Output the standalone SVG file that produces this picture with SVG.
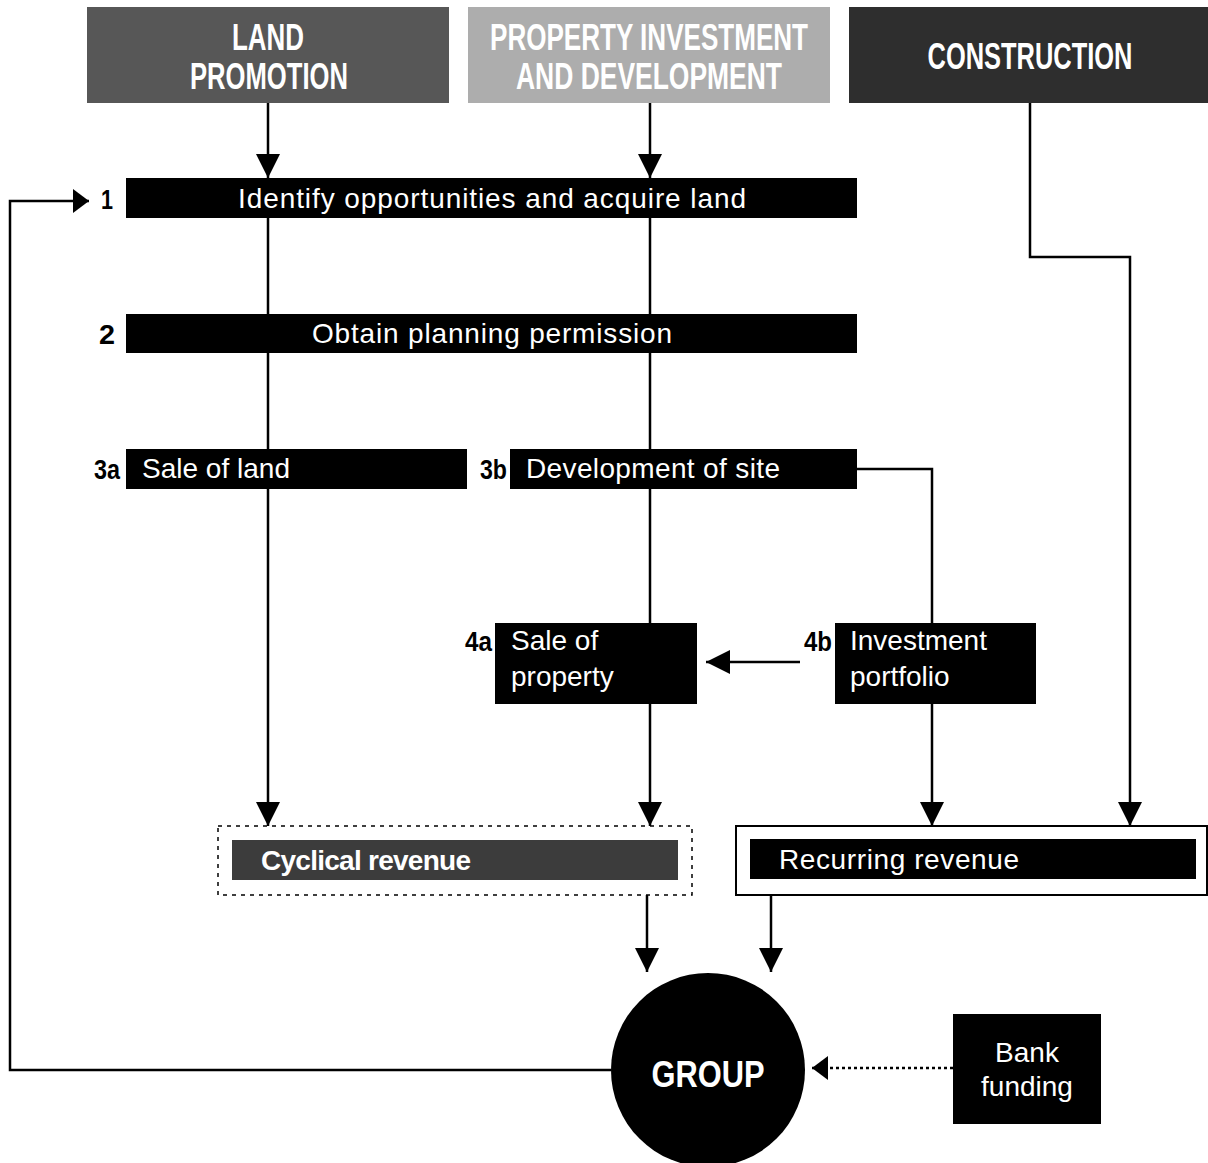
<svg xmlns="http://www.w3.org/2000/svg" width="1208" height="1163" viewBox="0 0 1208 1163">
<style>
.hd{font-family:"Liberation Sans",Arial,sans-serif;font-weight:bold;font-size:37px;fill:#fff;text-anchor:middle}
.t{font-family:"Liberation Sans",Arial,sans-serif;font-size:28px;fill:#fff}
.n{font-family:"Liberation Sans",Arial,sans-serif;font-weight:bold;font-size:27px;fill:#000}
.bar{fill:#000}
.ln{fill:none;stroke:#000;stroke-width:2.5}
</style>
<defs>
<marker id="a" viewBox="0 0 24 24" refX="24" refY="12" markerWidth="24" markerHeight="24" markerUnits="userSpaceOnUse" orient="auto">
<path d="M0,0 L24,12 L0,24 z" fill="#000"/>
</marker>
<marker id="a2" viewBox="0 0 16 24" refX="16" refY="12" markerWidth="16" markerHeight="24" markerUnits="userSpaceOnUse" orient="auto">
<path d="M0,0 L16,12 L0,24 z" fill="#000"/>
</marker>
</defs>

<g id="hdr-land">
<rect x="87" y="7" width="362" height="96" fill="#575757"/>
<text class="hd" x="268" y="50" textLength="72" lengthAdjust="spacingAndGlyphs">LAND</text>
<text class="hd" x="269" y="89" textLength="158" lengthAdjust="spacingAndGlyphs">PROMOTION</text>
</g>
<g id="hdr-property">
<rect x="468" y="7" width="362" height="96" fill="#adadad"/>
<text class="hd" x="649" y="50" textLength="318" lengthAdjust="spacingAndGlyphs">PROPERTY INVESTMENT</text>
<text class="hd" x="649" y="89" textLength="266" lengthAdjust="spacingAndGlyphs">AND DEVELOPMENT</text>
</g>
<g id="hdr-construction">
<rect x="849" y="7" width="359" height="96" fill="#2e2e2e"/>
<text class="hd" x="1030" y="69" textLength="205" lengthAdjust="spacingAndGlyphs">CONSTRUCTION</text>
</g>

<g id="step1">
<rect class="bar" x="126" y="178" width="731" height="40"/>
<text class="n" x="101" y="209" textLength="12" lengthAdjust="spacingAndGlyphs">1</text>
<text class="t" x="238" y="208" textLength="508">Identify opportunities and acquire land</text>
</g>
<g id="step2">
<rect class="bar" x="126" y="314" width="731" height="39"/>
<text class="n" x="99" y="344" textLength="16" lengthAdjust="spacingAndGlyphs">2</text>
<text class="t" x="312" y="343" textLength="360">Obtain planning permission</text>
</g>
<g id="step3a">
<rect class="bar" x="126" y="449" width="341" height="40"/>
<text class="n" x="94" y="479" textLength="26" lengthAdjust="spacingAndGlyphs">3a</text>
<text class="t" x="142" y="478" textLength="148">Sale of land</text>
</g>
<g id="step3b">
<rect class="bar" x="510" y="449" width="347" height="40"/>
<text class="n" x="480" y="479" textLength="27" lengthAdjust="spacingAndGlyphs">3b</text>
<text class="t" x="526" y="478" textLength="254">Development of site</text>
</g>
<g id="step4a">
<rect class="bar" x="495" y="623" width="202" height="81"/>
<text class="n" x="465" y="651" textLength="27" lengthAdjust="spacingAndGlyphs">4a</text>
<text class="t" x="511" y="650">Sale of</text>
<text class="t" x="511" y="686">property</text>
</g>
<g id="step4b">
<rect class="bar" x="835" y="623" width="201" height="81"/>
<text class="n" x="804" y="651" textLength="28" lengthAdjust="spacingAndGlyphs">4b</text>
<text class="t" x="850" y="650">Investment</text>
<text class="t" x="850" y="686">portfolio</text>
</g>
<g id="cyclical">
<rect x="218" y="826" width="474" height="69" fill="#fff" stroke="#000" stroke-width="1.5" stroke-dasharray="4,5"/>
<rect x="232" y="840" width="446" height="40" fill="#3c3c3c"/>
<text class="t" x="261" y="870" font-weight="bold" textLength="210">Cyclical revenue</text>
</g>
<g id="recurring">
<rect x="736" y="826" width="471" height="69" fill="#fff" stroke="#000" stroke-width="2"/>
<rect class="bar" x="750" y="839" width="446" height="40"/>
<text class="t" x="779" y="869" textLength="240">Recurring revenue</text>
</g>
<g id="group">
<circle cx="708" cy="1070" r="97" fill="#000"/>
<text class="hd" x="708" y="1087" font-size="44" textLength="113" lengthAdjust="spacingAndGlyphs">GROUP</text>
</g>
<g id="bank">
<rect class="bar" x="953" y="1014" width="148" height="110"/>
<text class="t" x="1027" y="1062" text-anchor="middle">Bank</text>
<text class="t" x="1027" y="1096" text-anchor="middle">funding</text>
</g>

<g id="connectors">
<path class="ln" d="M268,103 V178" marker-end="url(#a)"/>
<path class="ln" d="M650,103 V178" marker-end="url(#a)"/>
<path class="ln" d="M1030,103 V257 H1130 V826" marker-end="url(#a)"/>
<path class="ln" d="M268,218 V314 M268,353 V449"/>
<path class="ln" d="M268,489 V826" marker-end="url(#a)"/>
<path class="ln" d="M650,218 V314 M650,353 V449 M650,489 V623"/>
<path class="ln" d="M650,704 V826" marker-end="url(#a)"/>
<path class="ln" d="M857,469 H932 V623"/>
<path class="ln" d="M932,704 V826" marker-end="url(#a)"/>
<path class="ln" d="M800,662 H706" marker-end="url(#a)"/>
<path class="ln" d="M647,895 V972" marker-end="url(#a)"/>
<path class="ln" d="M771,895 V972" marker-end="url(#a)"/>
<path class="ln" d="M611,1070 H10 V201 H89" marker-end="url(#a2)"/>
<path class="ln" d="M953,1068 H812" stroke-dasharray="3,3" marker-end="url(#a2)"/>
</g>
</svg>
